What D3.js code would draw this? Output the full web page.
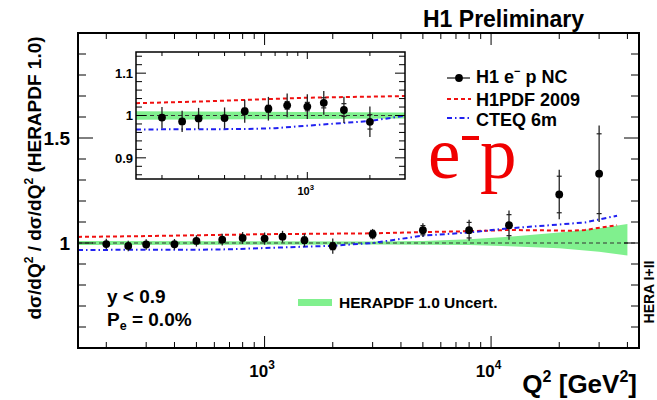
<!DOCTYPE html>
<html>
<head>
<meta charset="utf-8">
<script src="https://cdn.jsdelivr.net/npm/d3@7"></script>
<style>
  body { margin: 0; background: #fff; }
  text { font-family: "Liberation Sans", Arial, Helvetica, sans-serif; font-weight: bold; }
</style>
</head>
<body>
<script>
// H1 e-p NC data, ratio to HERAPDF 1.0
const q2 = [200, 250, 300, 400, 500, 650, 800, 1000, 1200, 1500, 2000, 3000, 5000, 8000, 12000, 20000, 30000];
const ratio = [0.995, 0.986, 0.993, 0.994, 1.010, 1.016, 1.024, 1.021, 1.030, 1.013, 0.985, 1.042, 1.061, 1.061, 1.085, 1.231, 1.33];
const errTot = [0.025, 0.025, 0.025, 0.025, 0.027, 0.028, 0.028, 0.029, 0.028, 0.031, 0.036, 0.025, 0.033, 0.05, 0.07, 0.118, 0.23];
const errStat = [0.006, 0.006, 0.006, 0.006, 0.007, 0.008, 0.009, 0.01, 0.012, 0.015, 0.017, 0.018, 0.022, 0.037, 0.05, 0.087, 0.19];

// HERAPDF 1.0 uncertainty band
const bandQ2 = [150, 1000, 3000, 5000, 8000, 12000, 20000, 30000, 40000];
const bandUp = [1.010, 1.008, 1.007, 1.010, 1.018, 1.030, 1.050, 1.070, 1.090];
const bandLo = [0.990, 0.992, 0.993, 0.992, 0.990, 0.985, 0.975, 0.958, 0.940];

// H1PDF 2009
const h1pdfQ2 = [150, 300, 1000, 3000, 5000, 8000, 12000, 18000, 22000, 26000, 36000];
const h1pdf = [1.029, 1.033, 1.042, 1.046, 1.052, 1.056, 1.062, 1.060, 1.058, 1.062, 1.085];

// CTEQ 6m
const cteqQ2 = [150, 500, 700, 1000, 2000, 3000, 5000, 8000, 12000, 20000, 26000, 36000];
const cteq = [0.967, 0.968, 0.970, 0.976, 0.987, 1.000, 1.035, 1.050, 1.070, 1.088, 1.098, 1.13];

const W = 657, H = 400;
const svg = d3.select('body').append('svg')
    .attr('width', W).attr('height', H);

const defs = svg.append('defs');

function panel(o) {
    const x = d3.scaleLog().domain(o.xd).range([o.x0, o.x1]);
    const y = d3.scaleLinear().domain(o.yd).range([o.y1, o.y0]);
    const g = svg.append('g');

    defs.append('clipPath').attr('id', o.id)
      .append('rect').attr('x', o.x0).attr('y', o.y0)
      .attr('width', o.x1 - o.x0).attr('height', o.y1 - o.y0);

    if (o.inset) {
        g.append('rect').attr('x', o.x0).attr('y', o.y0)
          .attr('width', o.x1 - o.x0).attr('height', o.y1 - o.y0).attr('fill', '#fff');
    }

    const plot = g.append('g').attr('clip-path', `url(#${o.id})`);

    const band = d3.area()
        .x((d, i) => x(bandQ2[i]))
        .y0((d, i) => y(bandLo[i]))
        .y1((d, i) => y(bandUp[i]));
    plot.append('path').datum(bandQ2)
        .attr('d', band).attr('fill', '#80f08e');

    plot.append('line')
        .attr('x1', o.x0).attr('x2', o.x1).attr('y1', y(1)).attr('y2', y(1))
        .attr('stroke', '#333').attr('stroke-width', 1.2).attr('stroke-dasharray', '4,3');

    const line = d3.line();
    plot.append('path')
        .attr('d', line(h1pdfQ2.map((q, i) => [x(q), y(h1pdf[i])])))
        .attr('fill', 'none').attr('stroke', '#f01010').attr('stroke-width', 2)
        .attr('stroke-dasharray', '4,3');
    plot.append('path')
        .attr('d', line(cteqQ2.map((q, i) => [x(q), y(cteq[i])])))
        .attr('fill', 'none').attr('stroke', '#2020f0').attr('stroke-width', 2)
        .attr('stroke-dasharray', '5,3,1.5,3');

    // data points (only those inside the panel's Q2 range)
    const inRange = q2.map((q, i) => i).filter(i => q2[i] > o.xd[0] && q2[i] < o.xd[1]);
    const pts = plot.selectAll('g.pt').data(inRange).enter().append('g').attr('class', 'pt');
    pts.append('line')
        .attr('x1', i => x(q2[i])).attr('x2', i => x(q2[i]))
        .attr('y1', i => y(ratio[i] + errTot[i]))
        .attr('y2', i => y(ratio[i] - errTot[i]))
        .attr('stroke', '#222').attr('stroke-width', 1.3);
    [1, -1].forEach(s => {
        pts.append('line')
            .attr('x1', i => x(q2[i]) - 2.5).attr('x2', i => x(q2[i]) + 2.5)
            .attr('y1', i => y(ratio[i] + s * errStat[i]))
            .attr('y2', i => y(ratio[i] + s * errStat[i]))
            .attr('stroke', '#222').attr('stroke-width', 1.2);
    });
    pts.append('circle')
        .attr('cx', i => x(q2[i])).attr('cy', i => y(ratio[i]))
        .attr('r', 3.9).attr('fill', '#000');

    // frame
    g.append('rect').attr('x', o.x0).attr('y', o.y0)
      .attr('width', o.x1 - o.x0).attr('height', o.y1 - o.y0)
      .attr('fill', 'none').attr('stroke', '#000').attr('stroke-width', o.fw);

    // x ticks (log minor/major)
    const xt = [];
    for (let e = 2; e <= 4; e++) for (let k = 1; k <= 9; k++) {
        const v = k * Math.pow(10, e);
        if (v > o.xd[0] && v < o.xd[1]) xt.push({ v, major: k === 1 });
    }
    xt.forEach(t => {
        const L = t.major ? o.tMaj : o.tMin;
        g.append('line').attr('x1', x(t.v)).attr('x2', x(t.v))
          .attr('y1', o.y1).attr('y2', o.y1 - L).attr('stroke', '#000').attr('stroke-width', 1);
        g.append('line').attr('x1', x(t.v)).attr('x2', x(t.v))
          .attr('y1', o.y0).attr('y2', o.y0 + L).attr('stroke', '#000').attr('stroke-width', 1);
        if (t.major) {
            const lab = g.append('text').attr('x', x(t.v) - o.xls * 0.15).attr('y', o.y1 + o.xly)
              .attr('text-anchor', 'middle').attr('font-size', o.xls);
            lab.append('tspan').text('10');
            lab.append('tspan').attr('font-size', o.xls * 0.7).attr('dy', -o.xls * 0.45)
              .text(Math.round(Math.log10(t.v)));
        }
    });

    // y ticks
    const yt = d3.range(Math.round(o.yd[0] / o.ym), Math.round(o.yd[1] / o.ym) + 1).map(k => k * o.ym);
    yt.forEach(v => {
        const r = v / o.yM;
        const major = Math.abs(r - Math.round(r)) < 1e-6;
        const L = major ? o.tMaj + 3 : o.tMin + 2;
        if (v <= o.yd[0] + 1e-9 || v >= o.yd[1] - 1e-9) return;
        g.append('line').attr('x1', o.x0).attr('x2', o.x0 + L)
          .attr('y1', y(v)).attr('y2', y(v)).attr('stroke', '#000').attr('stroke-width', 1);
        g.append('line').attr('x1', o.x1).attr('x2', o.x1 - L)
          .attr('y1', y(v)).attr('y2', y(v)).attr('stroke', '#000').attr('stroke-width', 1);
        if (major) {
            g.append('text').attr('x', o.x0 - o.ylx).attr('y', y(v))
              .attr('dy', '0.36em').attr('text-anchor', 'end').attr('font-size', o.yls)
              .text(d3.format('~g')(+v.toFixed(2)));
        }
    });
    return { x, y };
}

panel({ id: 'main', x0: 78, x1: 639, y0: 33, y1: 348, xd: [150, 45000], yd: [0.5, 2.0],
        ym: 0.1, yM: 0.5, tMaj: 12, tMin: 6, fw: 2, xls: 17, xly: 29, yls: 19, ylx: 8 });

// annotations in main panel
svg.append('text').attr('x', 107).attr('y', 303).attr('font-size', 19).text('y < 0.9');
const pe = svg.append('text').attr('x', 107).attr('y', 326).attr('font-size', 19);
pe.append('tspan').text('P');
pe.append('tspan').attr('font-size', 12.5).attr('dy', 4).text('e');
pe.append('tspan').attr('dy', -4).text(' = 0.0%');

svg.append('rect').attr('x', 298).attr('y', 299).attr('width', 34).attr('height', 7).attr('fill', '#80f08e');
svg.append('text').attr('x', 339).attr('y', 308).attr('font-size', 15.5).text('HERAPDF 1.0 Uncert.');

panel({ id: 'inset', inset: true, x0: 136, x1: 405, y0: 52, y1: 179, xd: [150, 2950], yd: [0.85, 1.15],
        ym: 0.02, yM: 0.1, tMaj: 7, tMin: 4, fw: 1.5, xls: 11, xly: 16, yls: 13, ylx: 3 });

// legend
const lg = svg.append('g');
lg.append('line').attr('x1', 447).attr('x2', 470).attr('y1', 78).attr('y2', 78).attr('stroke', '#222').attr('stroke-width', 1.3);
lg.append('circle').attr('cx', 459).attr('cy', 78).attr('r', 3.9).attr('fill', '#000');
const l1 = lg.append('text').attr('x', 476).attr('y', 83).attr('font-size', 18);
l1.append('tspan').text('H1 e');
l1.append('tspan').attr('font-size', 11).attr('dy', -8).text('\u2212');
l1.append('tspan').attr('dy', 8).text(' p NC');
lg.append('line').attr('x1', 447).attr('x2', 471).attr('y1', 99).attr('y2', 99)
  .attr('stroke', '#f01010').attr('stroke-width', 2).attr('stroke-dasharray', '4,3');
lg.append('text').attr('x', 476).attr('y', 106).attr('font-size', 18).text('H1PDF 2009');
lg.append('line').attr('x1', 447).attr('x2', 471).attr('y1', 118).attr('y2', 118)
  .attr('stroke', '#2020f0').attr('stroke-width', 2).attr('stroke-dasharray', '5,3,1.5,3');
lg.append('text').attr('x', 476).attr('y', 126).attr('font-size', 18).text('CTEQ 6m');

// e-p label
const serif = '"Liberation Serif", "Times New Roman", serif';
svg.append('text').attr('x', 428).attr('y', 178).attr('font-size', 73)
  .attr('fill', '#f00000').style('font-family', serif)
  .style('font-weight', 'normal').text('e');
svg.append('rect').attr('x', 462).attr('y', 136).attr('width', 17).attr('height', 4).attr('fill', '#f00000');
svg.append('text').attr('x', 480).attr('y', 178).attr('font-size', 73)
  .attr('fill', '#f00000').style('font-family', serif)
  .style('font-weight', 'normal').text('p');

// titles
svg.append('text').attr('x', 423).attr('y', 27).attr('font-size', 23).text('H1 Preliminary');

const xt = svg.append('text').attr('x', 637).attr('y', 393).attr('text-anchor', 'end').attr('font-size', 26);
xt.append('tspan').text('Q');
xt.append('tspan').attr('font-size', 16).attr('dy', -11).text('2');
xt.append('tspan').attr('dy', 11).text(' [GeV');
xt.append('tspan').attr('font-size', 16).attr('dy', -11).text('2');
xt.append('tspan').attr('dy', 11).text(']');

const yt = svg.append('text').attr('transform', 'translate(41,178) rotate(-90)')
  .attr('text-anchor', 'middle').attr('font-size', 19);
yt.append('tspan').text('d\u03c3/dQ');
yt.append('tspan').attr('font-size', 12).attr('dy', -8).text('2');
yt.append('tspan').attr('dy', 8).text(' / d\u03c3/dQ');
yt.append('tspan').attr('font-size', 12).attr('dy', -8).text('2');
yt.append('tspan').attr('dy', 8).text(' (HERAPDF 1.0)');

svg.append('text').attr('transform', 'translate(654,292) rotate(-90)')
  .attr('text-anchor', 'middle').attr('font-size', 14).text('HERA I+II');
</script>
</body>
</html>
